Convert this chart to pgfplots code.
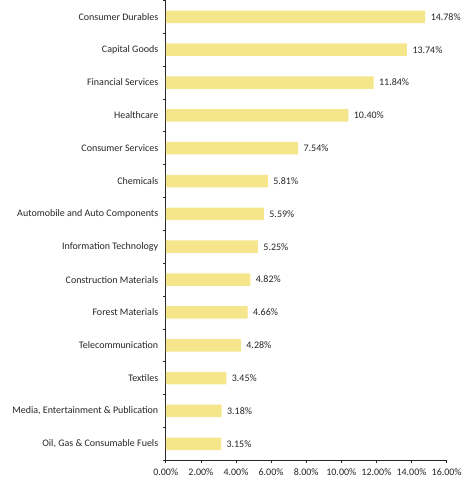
\documentclass[border=0pt]{standalone}
\usepackage{pgfplots}
\pgfplotsset{compat=1.18}
\usepackage{fontspec}
\setmainfont{Carlito}
\definecolor{barc}{HTML}{F5E68C}
\definecolor{txt}{HTML}{262626}
\begin{document}
\fontsize{10}{12}\selectfont
\begin{tikzpicture}
\begin{axis}[
  scale only axis,
  width=281pt, height=460pt,
  xbar, bar width=12.5pt,
  xmin=0, xmax=16,
  ymin=-0.5, ymax=13.5,
  axis x line*=bottom, axis y line*=left,
  axis line style={txt, line width=0.8pt},
  xtick={0,2,...,16},
  xticklabels={0.00\%,2.00\%,4.00\%,6.00\%,8.00\%,10.00\%,12.00\%,14.00\%,16.00\%},
  ytick={0,...,13},
  yticklabels={{Oil, Gas \& Consumable Fuels},{Media, Entertainment \& Publication},Textiles,Telecommunication,Forest Materials,Construction Materials,Information Technology,Automobile and Auto Components,Chemicals,Consumer Services,Healthcare,Financial Services,Capital Goods,Consumer Durables},
  minor ytick={-0.5,0.5,...,13.5},
  major y tick style={draw=none},
  minor tick length=3pt,
  major tick length=3pt,
  tick align=outside,
  tick style={txt, line width=0.6pt},
  tick label style={font=\fontsize{10}{12}\selectfont, text=txt},
  yticklabel style={xshift=-1pt},
  xticklabel style={yshift=-2pt},
  /pgf/number format/assume math mode=true,
  point meta=x,
  nodes near coords={\pgfmathprintnumber[fixed,fixed zerofill,precision=2,assume math mode=true]{\pgfplotspointmeta}\%},
  nodes near coords style={font=\fontsize{10}{12}\selectfont, text=txt, anchor=west, xshift=2pt},
]
\addplot[fill=barc, draw=none] coordinates {
(3.15,0) (3.18,1) (3.45,2) (4.28,3) (4.66,4) (4.82,5) (5.25,6) (5.59,7) (5.81,8) (7.54,9) (10.40,10) (11.84,11) (13.74,12) (14.78,13)
};
\end{axis}
\path (current bounding box.west) ++(-9pt,0);
\end{tikzpicture}
\end{document}
